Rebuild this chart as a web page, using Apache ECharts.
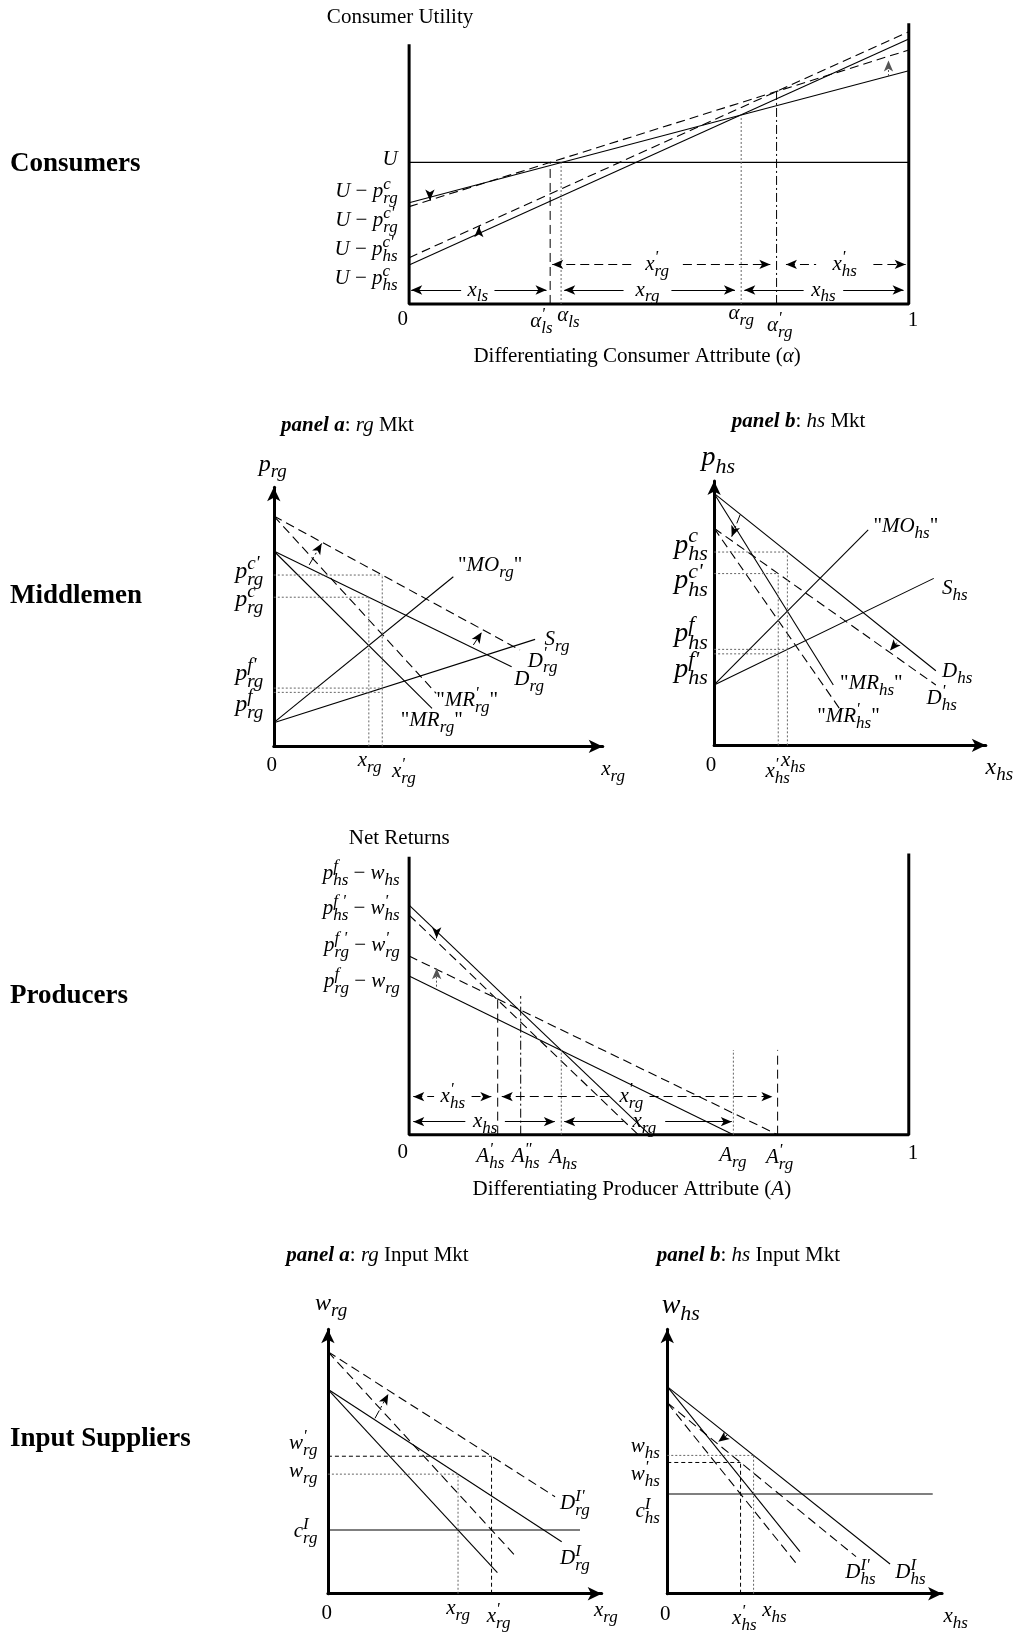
<!DOCTYPE html>
<html>
<head>
<meta charset="utf-8">
<title>Consumers, middlemen, producers and input suppliers</title>
<script src="https://cdn.jsdelivr.net/npm/echarts/dist/echarts.min.js"></script>
<style>
  html, body { margin: 0; padding: 0; background: #fff; }
  #chart { width: 1016px; height: 1632px; }
</style>
</head>
<body>
<div id="chart"></div>
<script>
// measurements were taken on a 976px wide copy, K scales them to the page
const K = 1016 / 976;
const SERIF = '"Liberation Serif", "DejaVu Serif", serif';

// ---------- Consumers (alpha 0..1 drawn as 0..48, utility on y) ----------
const consFrame = [[0, 24.94], [0, 0], [48, 0], [48, 26.96]];
const consU = [[0, 13.6], [48, 13.6]];
const consRg = [[0, 9.73], [48, 22.41]];
const consRgNew = [[0, 9.35], [48, 24.4]];
const consHs = [[0, 3.74], [48, 25.45]];
const consHsNew = [[0, 4.45], [48, 26.16]];
const consCut = [13.55, 14.6, 31.9, 35.3];       // alpha'_ls, alpha_ls, alpha_rg, alpha'_rg
const consCutTop = [13.6, 13.6, 18.17, 20.4];
const consRows = [3.8, 1.34];
const consSpanNew = [[13.75, 34.7], [36.2, 47.7]];
const consGapNew = [[21.35, 26.3], [39.1, 44.6]];
const consSpan = [[0.2, 13.2], [14.9, 31.3], [32.2, 47.5]];
const consGap = [[5.0, 8.2], [20.6, 25.2], [37.9, 41.7]];
const consShift = [[[2.0, 10.4], [2.0, 9.95]], [[6.7, 6.76], [6.7, 7.47]], [[46.05, 21.9], [46.05, 23.4]]];

// ---------- Middlemen, panel a: rg market ----------
const mRgDemand = [[0, 18.77], [22.85, 7.66]];
const mRgDemandNew = [[0, 22.13], [23.65, 9.26]];
const mRgMr = [[0, 18.77], [15.2, 3.66]];
const mRgMrNew = [[0, 22.13], [15.6, 5.1]];
const mRgSupply = [[0, 2.28], [25.1, 10.28]];
const mRgMo = [[0, 2.28], [17.25, 16.3]];
const mRgQty = [9.13, 10.42];     // x_rg, x'_rg
const mRgPc = [14.33, 16.46];     // p^c, p^c'
const mRgPf = [5.19, 5.6];        // p^f, p^f'
const mRgShift = [[[3.4, 17.43], [4.6, 19.5]], [[19.17, 9.74], [19.97, 10.96]]];

// ---------- Middlemen, panel b: hs market ----------
const mHsDemand = [[0, 24.2], [21.3, 7.17]];
const mHsDemandNew = [[0, 20.85], [21.3, 5.8]];
const mHsMr = [[0, 24.2], [11.45, 5.8]];
const mHsMrNew = [[0, 20.85], [12.03, 3.56]];
const mHsSupply = [[0, 5.8], [21.1, 16.04]];
const mHsMo = [[0, 5.8], [14.8, 20.7]];
const mHsQty = [7.04, 6.16];
const mHsPc = [18.57, 16.5];
const mHsPf = [9.22, 8.79];
const mHsShift = [[[2.49, 22.13], [1.69, 20.05]], [[17.54, 9.86], [16.9, 9.1]]];

// ---------- Producers (A 0..1 drawn as 0..48, net returns on y) ----------
const prodFrame = [[0, 26.7], [0, 0], [48, 0], [48, 27.0]];
const prodHs = [[0, 22.06], [23.1, 0]];
const prodHsNew = [[0, 21.1], [22.0, 0]];
const prodRg = [[0, 15.24], [31.15, 0]];
const prodRgNew = [[0, 17.16], [35.4, 0]];
const prodCut = [8.51, 10.72, 14.62, 31.15, 35.4];   // A'_hs, A''_hs, A_hs, A_rg, A'_rg
const prodCutTop = [13.32, 13.32, 8.14, 8.14, 8.14];
const prodRows = [3.65, 1.25];
const prodSpanNew = [[0.4, 7.9], [8.9, 34.9]];
const prodGapNew = [[2.4, 6.0], [19.6, 23.1]];
const prodSpan = [[0.4, 14.0], [14.9, 31.0]];
const prodGap = [[5.4, 9.2], [20.6, 24.6]];
const prodShift = [[[2.65, 19.66], [2.65, 18.86]], [[2.65, 14.22], [2.65, 15.98]]];

// ---------- Input suppliers, panel a: rg ----------
const inRgDemand = [[0, 19.64], [22.46, 5.0]];
const inRgDemandNew = [[0, 23.25], [21.82, 9.32]];
const inRgMr = [[0, 19.64], [16.28, 2.03]];
const inRgMrNew = [[0, 23.25], [18.13, 3.5]];
const inRgCost = [[0, 6.12], [24.22, 6.12]];
const inRgQty = [12.5, 15.72];
const inRgPrice = [11.49, 13.21];
const inRgShift = [[[4.52, 16.85], [5.8, 19.19]]];

// ---------- Input suppliers, panel b: hs ----------
const inHsDemand = [[0, 19.89], [21.4, 2.86]];
const inHsDemandNew = [[0, 18.35], [18.13, 3.56]];
const inHsMr = [[0, 19.89], [12.75, 4.04]];
const inHsMrNew = [[0, 18.35], [12.59, 2.67]];
const inHsCost = [[0, 9.58], [25.5, 9.58]];
const inHsQty = [8.29, 7.04];
const inHsPrice = [13.29, 12.61];
const inHsShift = [[[5.77, 15.25], [4.9, 14.6]]];

// panel boxes: origin in px (976 copy), axis lengths in data units (10px each)
const GRIDS = [
  { x0: 393, y0: 292, xmax: 48, ymax: 26.96, arrows: false },
  { x0: 263, y0: 717, xmax: 31.6, ymax: 24.9, arrows: true },
  { x0: 686, y0: 716, xmax: 26.1, ymax: 25.4, arrows: true },
  { x0: 393, y0: 1090, xmax: 48, ymax: 27.0, arrows: false },
  { x0: 315, y0: 1531, xmax: 26.3, ymax: 25.4, arrows: true },
  { x0: 641, y0: 1531, xmax: 26.4, ymax: 25.4, arrows: true }
];
const sx = (g, x) => GRIDS[g].x0 + x * 10;
const sy = (g, y) => GRIDS[g].y0 - y * 10;

const LS = {
  solid: { type: 'solid' },
  dashed: { type: [9, 5] },
  short: { type: [4, 3] },
  dotted: { type: [2, 2], color: '#666' },
  dashdot: { type: [9, 3, 2, 3] }
};

// rich text styles; every token flows left to right, supz has no width so
// the next token (the subscript) sits right under it
function makeRich(base, small, lh, slh) {
  const f = (o) => Object.assign({ fontFamily: SERIF, align: 'left' }, o);
  const script = { fontSize: small, lineHeight: slh, height: slh, fontStyle: 'italic' };
  return {
    n: f({ fontSize: base, lineHeight: lh }),
    i: f({ fontSize: base, lineHeight: lh, fontStyle: 'italic' }),
    bi: f({ fontSize: base, lineHeight: lh, fontStyle: 'italic', fontWeight: 'bold' }),
    b: f({ fontSize: 27, lineHeight: 32, fontWeight: 'bold' }),
    sub: f(Object.assign({ verticalAlign: 'bottom' }, script)),
    sup: f(Object.assign({ verticalAlign: 'top' }, script)),
    supz: f(Object.assign({ verticalAlign: 'top', width: 0 }, script))
  };
}
const RICH_SETS = [
  makeRich(21, 17, 30, 16),
  makeRich(24, 19, 34, 18),
  makeRich(28, 22, 39, 21)
];

const series = [];
const labels = [];
const arrows = [[], [], [], [], [], []];

function seg(g, pts, kind, extra) {
  series.push({
    type: 'line', xAxisIndex: g, yAxisIndex: g, data: pts,
    symbol: 'none', clip: false, silent: true, animation: false,
    emphasis: { disabled: true },
    lineStyle: Object.assign({ color: '#000', width: 1.1 }, LS[kind], extra)
  });
}

function T(x, y, text, align, size) {
  labels.push({
    type: 'text', x: x * K, y: y * K, z: 100, silent: true,
    style: {
      text: text, rich: RICH_SETS[size || 0], fill: '#000', fontFamily: SERIF, fontSize: 21,
      align: align || 'center', textAlign: align || 'center',
      verticalAlign: 'middle', textVerticalAlign: 'middle'
    }
  });
}

function arrow(g, from, to, startSym, endSym, kind) {
  arrows[g].push([
    { coord: from, symbol: startSym, symbolSize: [7, 11],
      lineStyle: Object.assign({ width: 1 }, LS[kind], { color: kind === 'dotted' ? '#555' : '#000' }) },
    { coord: to, symbol: endSym, symbolSize: [7, 11] }
  ]);
}

function rangeRow(g, spans, gaps, y, kind, names) {
  spans.forEach((s, i) => {
    arrow(g, [s[0], y], [gaps[i][0], y], 'arrow', 'none', kind);
    arrow(g, [gaps[i][1], y], [s[1], y], 'none', 'arrow', kind);
    T(sx(g, (gaps[i][0] + gaps[i][1]) / 2), sy(g, y), names[i]);
  });
}

function guide(g, q, p, kind) {
  seg(g, [[0, p], [q, p]], kind, { width: 1 });
  seg(g, [[q, 0], [q, p]], kind, { width: 1 });
}

// ----- Consumers -----
seg(0, consFrame, 'solid', { width: 3 });
seg(0, consU, 'solid');
seg(0, consRg, 'solid');
seg(0, consRgNew, 'dashed');
seg(0, consHs, 'solid');
seg(0, consHsNew, 'dashed');
['dashed', 'dotted', 'dotted', 'dashdot'].forEach((k, i) => seg(0, [[consCut[i], 0], [consCut[i], consCutTop[i]]], k, { width: 1 }));
rangeRow(0, consSpanNew, consGapNew, consRows[0], 'dashed', ["{i|x}{supz|'}{sub|rg}", "{i|x}{supz|'}{sub|hs}"]);
rangeRow(0, consSpan, consGap, consRows[1], 'solid', ['{i|x}{sub|ls}', '{i|x}{sub|rg}', '{i|x}{sub|hs}']);
consShift.forEach((a, i) => arrow(0, a[0], a[1], 'none', 'arrow', i === 2 ? 'dotted' : 'solid'));

// ----- Middlemen rg -----
seg(1, mRgDemand, 'solid');
seg(1, mRgDemandNew, 'dashed');
seg(1, mRgMr, 'solid');
seg(1, mRgMrNew, 'dashed');
seg(1, mRgSupply, 'solid');
seg(1, mRgMo, 'solid');
mRgQty.forEach((q, i) => {
  guide(1, q, mRgPc[i], 'dotted');
  seg(1, [[0, mRgPf[i]], [mRgQty[1], mRgPf[i]]], 'dotted', { width: 1 });
});
mRgShift.forEach(a => arrow(1, a[0], a[1], 'none', 'arrow', 'dashdot'));

// ----- Middlemen hs -----
seg(2, mHsDemand, 'solid');
seg(2, mHsDemandNew, 'dashed');
seg(2, mHsMr, 'solid');
seg(2, mHsMrNew, 'dashed');
seg(2, mHsSupply, 'solid');
seg(2, mHsMo, 'solid');
mHsQty.forEach((q, i) => {
  guide(2, q, mHsPc[i], 'dotted');
  seg(2, [[0, mHsPf[i]], [q, mHsPf[i]]], 'dotted', { width: 1 });
});
mHsShift.forEach(a => arrow(2, a[0], a[1], 'none', 'arrow', 'dashdot'));

// ----- Producers -----
seg(3, prodFrame, 'solid', { width: 3 });
seg(3, prodHs, 'solid');
seg(3, prodHsNew, 'dashed');
seg(3, prodRg, 'solid');
seg(3, prodRgNew, 'dashed');
['dashed', 'dashdot', 'dotted', 'dotted', 'dashed'].forEach((k, i) => seg(3, [[prodCut[i], 0], [prodCut[i], prodCutTop[i]]], k, { width: 1 }));
rangeRow(3, prodSpanNew, prodGapNew, prodRows[0], 'dashed', ["{i|x}{supz|'}{sub|hs}", "{i|x}{supz|'}{sub|rg}"]);
rangeRow(3, prodSpan, prodGap, prodRows[1], 'solid', ['{i|x}{sub|hs}', '{i|x}{sub|rg}']);
prodShift.forEach((a, i) => arrow(3, a[0], a[1], 'none', 'arrow', i === 1 ? 'dotted' : 'solid'));

// ----- Input suppliers rg -----
seg(4, inRgDemand, 'solid');
seg(4, inRgDemandNew, 'dashed');
seg(4, inRgMr, 'solid');
seg(4, inRgMrNew, 'dashed');
seg(4, inRgCost, 'solid');
guide(4, inRgQty[0], inRgPrice[0], 'dotted');
guide(4, inRgQty[1], inRgPrice[1], 'short');
inRgShift.forEach(a => arrow(4, a[0], a[1], 'none', 'arrow', 'dashdot'));

// ----- Input suppliers hs -----
seg(5, inHsDemand, 'solid');
seg(5, inHsDemandNew, 'dashed');
seg(5, inHsMr, 'solid');
seg(5, inHsMrNew, 'dashed');
seg(5, inHsCost, 'solid');
guide(5, inHsQty[0], inHsPrice[0], 'dotted');
guide(5, inHsQty[1], inHsPrice[1], 'short');
inHsShift.forEach(a => arrow(5, a[0], a[1], 'none', 'arrow', 'dashdot'));

// one invisible host series per panel carries the arrows
arrows.forEach((list, g) => {
  series.push({
    type: 'line', xAxisIndex: g, yAxisIndex: g, data: [[0, 0]],
    symbol: 'none', clip: false, silent: true, animation: false,
    lineStyle: { width: 0 },
    markLine: {
      silent: true, animation: false, symbol: ['none', 'none'],
      label: { show: false }, emphasis: { disabled: true },
      lineStyle: { color: '#000' }, itemStyle: { color: '#000' },
      data: list
    }
  });
});

// ----- texts -----
// row titles
T(9.6, 157.6, '{b|Consumers}', 'left');
T(9.6, 573, '{b|Middlemen}', 'left');
T(9.6, 957, '{b|Producers}', 'left');
T(9.6, 1382, '{b|Input Suppliers}', 'left');

// consumers
T(314, 17, '{n|Consumer Utility}', 'left');
T(382, 153, '{i|U}', 'right');
T(382, 184, '{i|U}{n| − }{i|p}{supz|c}{sub|rg}', 'right');
T(382, 212, "{i|U}{n| − }{i|p}{supz|c'}{sub|rg}", 'right');
T(382, 240, "{i|U}{n| − }{i|p}{supz|c'}{sub|hs}", 'right');
T(382, 268, '{i|U}{n| − }{i|p}{supz|c}{sub|hs}', 'right');
T(387, 307, '{n|0}');
T(520, 309, "{i|α}{supz|'}{sub|ls}");
T(546, 303, '{i|α}{sub|ls}');
T(712, 301, '{i|α}{sub|rg}');
T(749, 313, "{i|α}{supz|'}{sub|rg}");
T(877, 308, '{n|1}');
T(612, 342, '{n|Differentiating Consumer Attribute (}{i|α}{n|)}');

// middlemen a
T(270, 409, '{bi|panel a}{n|: }{i|rg}{n| Mkt}', 'left');
T(262, 446, '{i|p}{sub|rg}', 'center', 1);
T(253, 549, "{i|p}{supz|c'}{sub|rg}", 'right', 1);
T(253, 576, '{i|p}{supz|c}{sub|rg}', 'right', 1);
T(253, 647, "{i|p}{supz|f'}{sub|rg}", 'right', 1);
T(253, 677, '{i|p}{supz|f}{sub|rg}', 'right', 1);
T(440, 543, '{n|"}{i|MO}{sub|rg}{n|"}', 'left');
T(523, 614, '{i|S}{sub|rg}', 'left');
T(507, 635, "{i|D}{supz|'}{sub|rg}", 'left');
T(494, 653, '{i|D}{sub|rg}', 'left');
T(419, 673, "{n|\"}{i|MR}{supz|'}{sub|rg}{n|\"}", 'left');
T(385, 692, '{n|"}{i|MR}{sub|rg}{n|"}', 'left');
T(261, 735, '{n|0}');
T(355, 731, '{i|x}{sub|rg}');
T(388, 741, "{i|x}{supz|'}{sub|rg}");
T(589, 739, '{i|x}{sub|rg}');

// middlemen b
T(703, 405, '{bi|panel b}{n|: }{i|hs}{n| Mkt}', 'left');
T(690, 440, '{i|p}{sub|hs}', 'center', 2);
T(680, 524, '{i|p}{supz|c}{sub|hs}', 'right', 2);
T(680, 558, "{i|p}{supz|c'}{sub|hs}", 'right', 2);
T(680, 609, '{i|p}{supz|f}{sub|hs}', 'right', 2);
T(680, 643, "{i|p}{supz|f'}{sub|hs}", 'right', 2);
T(839, 506, '{n|"}{i|MO}{sub|hs}{n|"}', 'left');
T(905, 565, '{i|S}{sub|hs}', 'left');
T(905, 645, '{i|D}{sub|hs}', 'left');
T(890, 671, "{i|D}{supz|'}{sub|hs}", 'left');
T(807, 657, '{n|"}{i|MR}{sub|hs}{n|"}', 'left');
T(785, 688, "{n|\"}{i|MR}{supz|'}{sub|hs}{n|\"}", 'left');
T(683, 735, '{n|0}');
T(747, 741, "{i|x}{supz|'}{sub|hs}");
T(762, 731, '{i|x}{sub|hs}');
T(960, 737, '{i|x}{sub|hs}', 'center', 1);

// producers
T(335, 805, '{n|Net Returns}', 'left');
T(384, 839, '{i|p}{supz|f}{sub|hs}{n| − }{i|w}{sub|hs}', 'right');
T(384, 873, "{i|p}{supz|f '}{sub|hs}{n| − }{i|w}{supz|'}{sub|hs}", 'right');
T(384, 908, "{i|p}{supz|f '}{sub|rg}{n| − }{i|w}{supz|'}{sub|rg}", 'right');
T(384, 943, '{i|p}{supz|f}{sub|rg}{n| − }{i|w}{sub|rg}', 'right');
T(387, 1107, '{n|0}');
T(471, 1111, "{i|A}{supz|'}{sub|hs}");
T(505, 1111, '{i|A}{supz|"}{sub|hs}');
T(541, 1112, '{i|A}{sub|hs}');
T(704, 1110, '{i|A}{sub|rg}');
T(749, 1112, "{i|A}{supz|'}{sub|rg}");
T(877, 1108, '{n|1}');
T(607, 1143, '{n|Differentiating Producer Attribute (}{i|A}{n|)}');

// input suppliers a
T(275, 1206, '{bi|panel a}{n|: }{i|rg}{n| Input Mkt}', 'left');
T(318, 1252, '{i|w}{sub|rg}', 'center', 1);
T(305, 1387, "{i|w}{supz|'}{sub|rg}", 'right');
T(305, 1414, '{i|w}{sub|rg}', 'right');
T(305, 1471, '{i|c}{supz|I}{sub|rg}', 'right');
T(538, 1444, "{i|D}{supz|I'}{sub|rg}", 'left');
T(538, 1497, '{i|D}{supz|I}{sub|rg}', 'left');
T(314, 1550, '{n|0}');
T(440, 1545, '{i|x}{sub|rg}');
T(479, 1553, "{i|x}{supz|'}{sub|rg}");
T(582, 1547, '{i|x}{sub|rg}');

// input suppliers b
T(631, 1206, '{bi|panel b}{n|: }{i|hs}{n| Input Mkt}', 'left');
T(654, 1254, '{i|w}{sub|hs}', 'center', 2);
T(634, 1390, '{i|w}{sub|hs}', 'right');
T(634, 1416, "{i|w}{supz|'}{sub|hs}", 'right');
T(634, 1452, '{i|c}{supz|I}{sub|hs}', 'right');
T(812, 1511, "{i|D}{supz|I'}{sub|hs}", 'left');
T(860, 1511, '{i|D}{supz|I}{sub|hs}', 'left');
T(639, 1551, '{n|0}');
T(715, 1555, "{i|x}{supz|'}{sub|hs}");
T(744, 1547, '{i|x}{sub|hs}');
T(918, 1553, '{i|x}{sub|hs}');

// grids and hidden value axes
const grid = [], xAxis = [], yAxis = [];
GRIDS.forEach((p, i) => {
  grid.push({
    left: p.x0 * K, top: (p.y0 - p.ymax * 10) * K,
    width: p.xmax * 10 * K, height: p.ymax * 10 * K,
    outerBoundsMode: 'none'
  });
  const axisLine = {
    show: p.arrows, symbol: ['none', 'arrow'], symbolSize: [10, 14],
    lineStyle: { color: '#000', width: 3 }
  };
  const common = {
    gridIndex: i, type: 'value', min: 0, axisLine: axisLine,
    axisTick: { show: false }, axisLabel: { show: false }, splitLine: { show: false }
  };
  xAxis.push(Object.assign({ max: p.xmax }, common));
  yAxis.push(Object.assign({ max: p.ymax }, common));
});

const myChart = echarts.init(document.getElementById('chart'), null, { renderer: 'canvas' });
myChart.setOption({
  backgroundColor: '#fff',
  animation: false,
  grid: grid,
  xAxis: xAxis,
  yAxis: yAxis,
  series: series,
  graphic: { elements: labels }
});
</script>
</body>
</html>
